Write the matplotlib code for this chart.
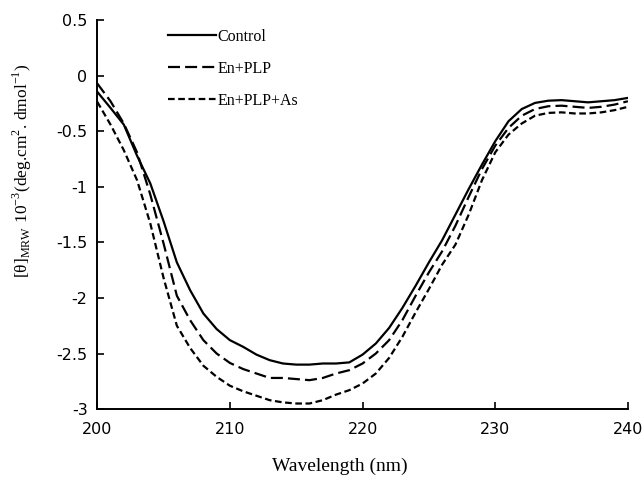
import matplotlib
matplotlib.use("Agg")
import matplotlib.pyplot as plt

plt.rcParams["font.family"] = ["Liberation Serif", "DejaVu Serif"]
plt.rcParams["axes.unicode_minus"] = False
plt.rcParams["axes.spines.right"] = False
plt.rcParams["axes.spines.top"] = False

# wavelength (nm)
wavelength = [200, 201, 202, 203, 204, 205, 206, 207, 208, 209, 210,
              211, 212, 213, 214, 215, 216, 217, 218, 219, 220,
              221, 222, 223, 224, 225, 226, 227, 228, 229, 230,
              231, 232, 233, 234, 235, 236, 237, 238, 239, 240]

control = [-0.145, -0.29, -0.44, -0.72, -0.97, -1.31, -1.68, -1.93, -2.14, -2.28, -2.38,
           -2.44, -2.51, -2.56, -2.59, -2.60, -2.60, -2.59, -2.59, -2.58, -2.51,
           -2.41, -2.27, -2.09, -1.89, -1.68, -1.48, -1.25, -1.02, -0.80, -0.59,
           -0.41, -0.30, -0.245, -0.225, -0.22, -0.23, -0.24, -0.23, -0.22, -0.20]

en_plp = [-0.07, -0.23, -0.43, -0.69, -1.07, -1.51, -1.98, -2.20, -2.38, -2.50, -2.585,
          -2.64, -2.68, -2.72, -2.72, -2.73, -2.74, -2.72, -2.68, -2.65, -2.59,
          -2.50, -2.38, -2.20, -1.98, -1.77, -1.58, -1.35, -1.09, -0.84, -0.63,
          -0.47, -0.36, -0.30, -0.275, -0.27, -0.28, -0.29, -0.28, -0.26, -0.23]

en_plp_as = [-0.235, -0.44, -0.67, -0.94, -1.33, -1.82, -2.25, -2.45, -2.61, -2.71, -2.79,
             -2.84, -2.88, -2.92, -2.94, -2.95, -2.95, -2.92, -2.87, -2.83, -2.77,
             -2.68, -2.54, -2.35, -2.13, -1.92, -1.70, -1.52, -1.25, -0.94, -0.69,
             -0.53, -0.43, -0.36, -0.335, -0.33, -0.34, -0.34, -0.33, -0.31, -0.28]

fig = plt.figure(figsize=(6.44, 4.79), dpi=100)
ax = fig.add_axes([0.151, 0.146, 0.824, 0.812])

ax.plot(wavelength, control, color="black", lw=1.6, ls="-", label="Control")
ax.plot(wavelength, en_plp, color="black", lw=1.6, ls=(0, (5.4, 2.3)), label="En+PLP")
ax.plot(wavelength, en_plp_as, color="black", lw=1.6, ls=(0, (3, 1.6)), label="En+PLP+As")

ax.set_xlim(200, 240)
ax.set_ylim(-3, 0.5)
ax.set_xticks([200, 210, 220, 230, 240])
ax.set_yticks([0.5, 0, -0.5, -1, -1.5, -2, -2.5, -3])
ax.set_yticklabels(["0.5", "0", "-0.5", "-1", "-1.5", "-2", "-2.5", "-3"])
ax.tick_params(direction="in", length=5, width=1.2)
ax.tick_params(axis="x", pad=9)
ax.tick_params(axis="y", pad=7)
for lab in ax.get_xticklabels() + ax.get_yticklabels():
    lab.set_fontfamily("DejaVu Sans")
    lab.set_fontsize(11.5)
for s in ["left", "bottom"]:
    ax.spines[s].set_linewidth(1.4)

ax.set_xlabel("Wavelength (nm)", fontsize=14)
ax.xaxis.set_label_coords(0.458, -0.125)
ax.set_ylabel(r"[θ]$_{\mathregular{MRW}}$ 10$^{\mathregular{-3}}$(deg.cm$^{\mathregular{2}}$. dmol$^{\mathregular{-1}}$)",
              fontsize=12.5)
ax.yaxis.set_label_coords(-0.12, 0.612)

ax.legend(loc="upper left", bbox_to_anchor=(0.107, 1.015), frameon=False, fontsize=11.5,
          handlelength=3.0, handletextpad=0.05, labelspacing=1.0)

fig.savefig("out.png", dpi=100)
